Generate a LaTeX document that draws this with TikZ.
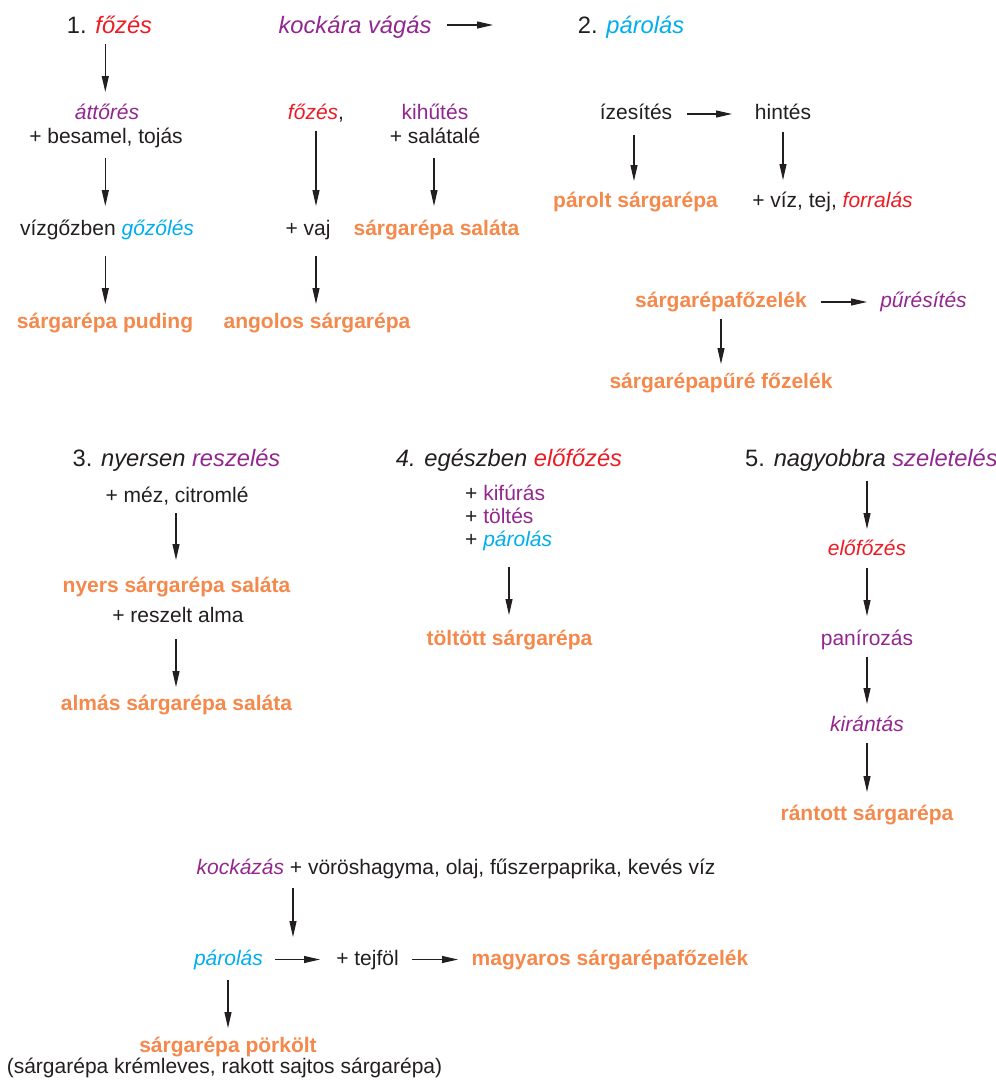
\documentclass[tikz,border=0pt]{standalone}
\usepackage{fontspec}
\setmainfont{Liberation Sans}
\usetikzlibrary{arrows.meta}
\definecolor{ink}{HTML}{231F20}
\definecolor{fzred}{HTML}{ED1C24}
\definecolor{fzcyan}{HTML}{00AEEF}
\definecolor{fzpurple}{HTML}{92278F}
\definecolor{fzorange}{HTML}{F5884B}
% colour helpers for the step words
\newcommand\stRed[1]{\textcolor{fzred}{\itshape #1}}
\newcommand\stCyan[1]{\textcolor{fzcyan}{\itshape #1}}
\newcommand\stPurpIt[1]{\textcolor{fzpurple}{\itshape #1}}
\newcommand\stPurp[1]{\textcolor{fzpurple}{#1}}
\begin{document}
\begin{tikzpicture}[x=1pt,y=-1pt,
  lbl/.style={anchor=base,inner sep=0pt,text=ink,font=\fontsize{21}{25}\selectfont},
  head/.style={lbl,font=\fontsize{23.7}{28}\selectfont},
  dish/.style={lbl,text=fzorange,font=\fontsize{21}{25}\selectfont\bfseries},
  arr/.style={draw=ink,line width=1.05pt,-{Triangle[length=16pt,width=7pt]}}]
\useasboundingbox (0,0) rectangle (996,1085);
\fill[white] (0,0) rectangle (996,1085);

% ---- top row headings
\node[head] (h1) at (109.5,33) {1. \stRed{főzés}};
\node[head] (kv) at (355,33) {\stPurpIt{kockára vágás}};
\node[head] (h2) at (631,33) {2. \stCyan{párolás}};

% ---- 1. főzés
\node[lbl] (att) at (107,119) {\stPurpIt{áttőrés}};
\node[lbl] (bes) at (106,143) {+ besamel, tojás};
\node[lbl] (vg) at (107,235) {vízgőzben \stCyan{gőzőlés}};
\node[dish] (pud) at (105,328) {sárgarépa puding};

% ---- kockára vágás
\node[lbl] (fz2) at (316,119) {\stRed{főzés},};
\node[lbl] (vaj) at (308,235) {+ vaj};
\node[dish] (ang) at (317,328) {angolos sárgarépa};
\node[lbl] (kih) at (435,119) {\stPurp{kihűtés}};
\node[lbl] (sal) at (435,143) {+ salátalé};
\node[dish] (ssal) at (436.5,235) {sárgarépa saláta};

% ---- 2. párolás
\node[lbl] (ize) at (636,119) {ízesítés};
\node[lbl] (hin) at (783,119) {hintés};
\node[dish] (psg) at (635.5,207) {párolt sárgarépa};
\node[lbl] (viz) at (832.5,207) {+ víz, tej, \stRed{forralás}};
\node[dish] (fzl) at (721,307) {sárgarépafőzelék};
\node[lbl] (pur) at (923.5,307) {\stPurpIt{pűrésítés}};
\node[dish] (pfz) at (721,388) {sárgarépapűré főzelék};

% ---- middle row headings
\node[head] (h3) at (176.5,466) {3. \textit{nyersen} \stPurpIt{reszelés}};
\node[head] (h4) at (509,466) {\textit{4. egészben} \stRed{előfőzés}};
\node[head] (h5) at (871.5,466) {5. \textit{nagyobbra} \stPurpIt{szeletelés}};

% ---- 3. nyersen reszelés
\node[lbl] (mez) at (177,502) {+ méz, citromlé};
\node[dish] (nys) at (176.5,592) {nyers sárgarépa saláta};
\node[lbl] (alma) at (178,622) {+ reszelt alma};
\node[dish] (alms) at (176.5,710) {almás sárgarépa saláta};

% ---- 4. egészben előfőzés
\node[lbl,anchor=base west] (kif) at (465,500) {+ \stPurp{kifúrás}};
\node[lbl,anchor=base west] (tol) at (465,523) {+ \stPurp{töltés}};
\node[lbl,anchor=base west] (pa4) at (465,546) {+ \stCyan{párolás}};
\node[dish] (tlt) at (509.5,645) {töltött sárgarépa};

% ---- 5. nagyobbra szeletelés
\node[lbl] (elo) at (867,555) {\stRed{előfőzés}};
\node[lbl] (pan) at (867,645) {\stPurp{panírozás}};
\node[lbl] (kir) at (867,731) {\stPurpIt{kirántás}};
\node[dish] (ran) at (867,820) {rántott sárgarépa};

% ---- bottom block
\node[lbl] (koc) at (456,874) {\stPurpIt{kockázás} + vöröshagyma, olaj, fűszerpaprika, kevés víz};
\node[lbl] (par) at (228.5,965) {\stCyan{párolás}};
\node[lbl] (tej) at (367.5,965) {+ tejföl};
\node[dish] (mag) at (610,965) {magyaros sárgarépafőzelék};
\node[dish] (pork) at (228,1052) {sárgarépa pörkölt};
\node[lbl] (krem) at (224.5,1073) {(sárgarépa krémleves, rakott sajtos sárgarépa)};

% ---- horizontal connectors
\draw[arr] ([shift={(92,-8)}]kv.base) -- ([shift={(-138,-8)}]h2.base);
\draw[arr] ([shift={(51,-5)}]ize.base) -- ([shift={(-51,-5)}]hin.base);
\draw[arr] ([shift={(100,-5)}]fzl.base) -- ([shift={(-56.5,-5)}]pur.base);
\draw[arr] ([shift={(46.5,-5.5)}]par.base) -- ([shift={(-47.5,-5.5)}]tej.base);
\draw[arr] ([shift={(44.5,-5.5)}]tej.base) -- ([shift={(-152,-5.5)}]mag.base);

% ---- vertical connectors
\draw[arr] ([shift={(-4.2,11)}]h1.base) -- ([shift={(-1.7,-27)}]att.base);
\draw[arr] ([shift={(-0.7,15)}]bes.base) -- ([shift={(-1.7,-29)}]vg.base);
\draw[arr] ([shift={(-1.7,21)}]vg.base) -- ([shift={(0.3,-24)}]pud.base);
\draw[arr] ([shift={(0,12)}]fz2.base) -- ([shift={(8,-29)}]vaj.base);
\draw[arr] ([shift={(8,21)}]vaj.base) -- ([shift={(-1,-24)}]ang.base);
\draw[arr] ([shift={(-1,15)}]sal.base) -- ([shift={(-2.5,-29)}]ssal.base);
\draw[arr] ([shift={(-2,16)}]ize.base) -- ([shift={(-1.5,-26)}]psg.base);
\draw[arr] ([shift={(0,13)}]hin.base) -- ([shift={(-49.5,-27)}]viz.base);
\draw[arr] ([shift={(0,12)}]fzl.base) -- ([shift={(0,-24)}]pfz.base);
\draw[arr] ([shift={(-1,11)}]mez.base) -- ([shift={(-0.5,-32)}]nys.base);
\draw[arr] ([shift={(-2,17)}]alma.base) -- ([shift={(-0.5,-23)}]alms.base);
\draw[arr] ([shift={(44,21)}]pa4.base west) -- ([shift={(-0.5,-30)}]tlt.base);
\draw[arr] ([shift={(-4.5,15)}]h5.base) -- ([shift={(0,-26)}]elo.base);
\draw[arr] ([shift={(0,13)}]elo.base) -- ([shift={(0,-29)}]pan.base);
\draw[arr] ([shift={(0,12)}]pan.base) -- ([shift={(0,-27)}]kir.base);
\draw[arr] ([shift={(0,12)}]kir.base) -- ([shift={(0,-28)}]ran.base);
\draw[arr] ([shift={(-163,14)}]koc.base) -- ([shift={(64.5,-28)}]par.base);
\draw[arr] ([shift={(-0.5,15)}]par.base) -- ([shift={(0,-24)}]pork.base);
\end{tikzpicture}
\end{document}
